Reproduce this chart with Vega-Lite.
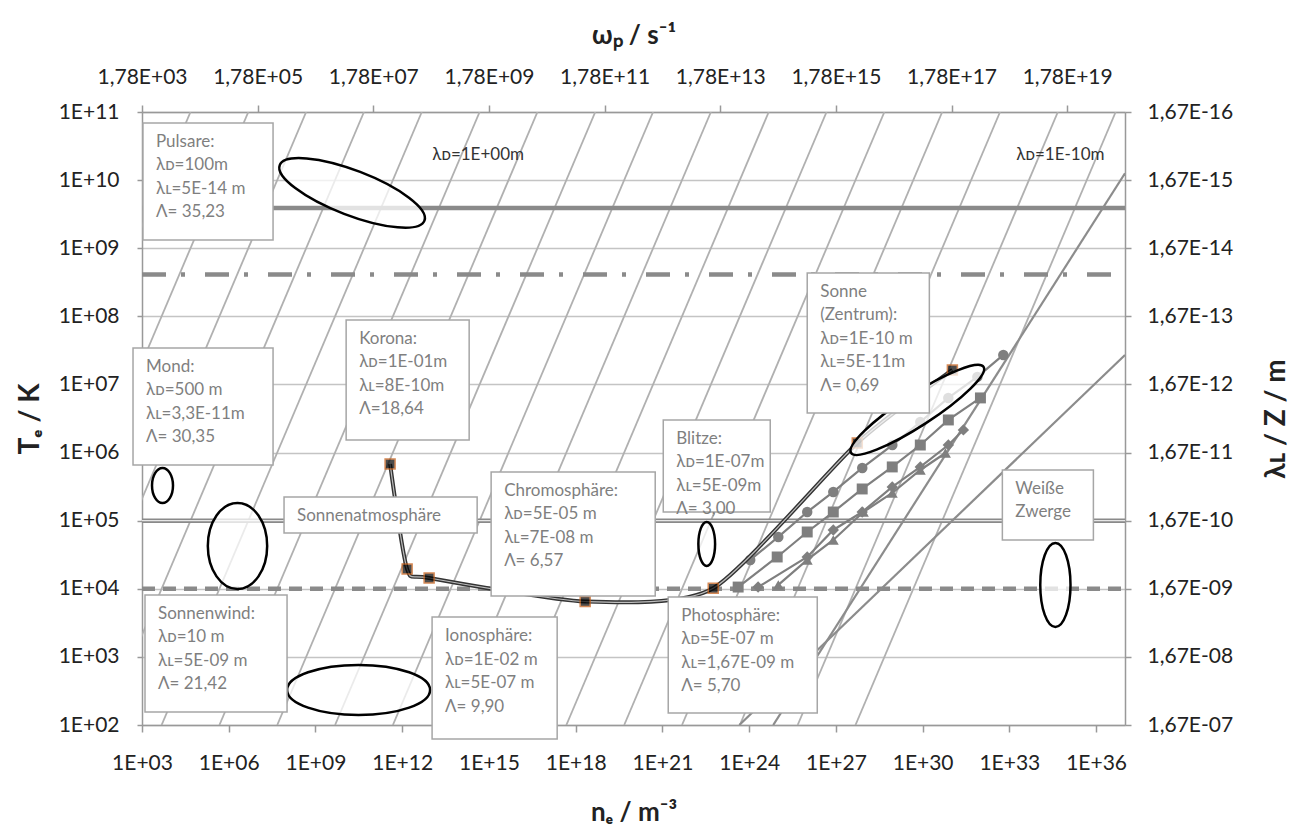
{
  "$schema": "https://vega.github.io/schema/vega-lite/v6.json",
  "width": 983,
  "height": 613,
  "autosize": {"type": "none"},
  "padding": {"left": 142, "top": 112, "right": 191, "bottom": 107},
  "background": "white",
  "config": {"view": {"stroke": null}, "font": "Lato"},
  "datasets": {
    "lam": [
      {"lam": "1E+05", "n": 4.761e-5, "T": 100}, {"lam": "1E+05", "n": 4.761e4, "T": 1e11},
      {"lam": "1E+04", "n": 4.761e-3, "T": 100}, {"lam": "1E+04", "n": 4.761e6, "T": 1e11},
      {"lam": "1E+03", "n": 0.4761, "T": 100}, {"lam": "1E+03", "n": 4.761e8, "T": 1e11},
      {"lam": "1E+02", "n": 47.61, "T": 100}, {"lam": "1E+02", "n": 4.761e10, "T": 1e11},
      {"lam": "1E+01", "n": 4761, "T": 100}, {"lam": "1E+01", "n": 4.761e12, "T": 1e11},
      {"lam": "1E+00", "n": 4.761e5, "T": 100}, {"lam": "1E+00", "n": 4.761e14, "T": 1e11},
      {"lam": "1E-01", "n": 4.761e7, "T": 100}, {"lam": "1E-01", "n": 4.761e16, "T": 1e11},
      {"lam": "1E-02", "n": 4.761e9, "T": 100}, {"lam": "1E-02", "n": 4.761e18, "T": 1e11},
      {"lam": "1E-03", "n": 4.761e11, "T": 100}, {"lam": "1E-03", "n": 4.761e20, "T": 1e11},
      {"lam": "1E-04", "n": 4.761e13, "T": 100}, {"lam": "1E-04", "n": 4.761e22, "T": 1e11},
      {"lam": "1E-05", "n": 4.761e15, "T": 100}, {"lam": "1E-05", "n": 4.761e24, "T": 1e11},
      {"lam": "1E-06", "n": 4.761e17, "T": 100}, {"lam": "1E-06", "n": 4.761e26, "T": 1e11},
      {"lam": "1E-07", "n": 4.761e19, "T": 100}, {"lam": "1E-07", "n": 4.761e28, "T": 1e11},
      {"lam": "1E-08", "n": 4.761e21, "T": 100}, {"lam": "1E-08", "n": 4.761e30, "T": 1e11},
      {"lam": "1E-09", "n": 4.761e23, "T": 100}, {"lam": "1E-09", "n": 4.761e32, "T": 1e11},
      {"lam": "1E-10", "n": 4.761e25, "T": 100}, {"lam": "1E-10", "n": 4.761e34, "T": 1e11},
      {"lam": "1E-11", "n": 4.761e27, "T": 100}, {"lam": "1E-11", "n": 4.761e36, "T": 1e11}
    ],
    "hl": [
      {"h": "a", "n": 1e3, "T": 3.9e9}, {"h": "a", "n": 1e37, "T": 3.9e9},
      {"h": "b", "n": 1e3, "T": 4.1e8}, {"h": "b", "n": 1e37, "T": 4.1e8},
      {"h": "c", "n": 1e3, "T": 1e5}, {"h": "c", "n": 1e37, "T": 1e5},
      {"h": "d", "n": 1e3, "T": 1e4}, {"h": "d", "n": 1e37, "T": 1e4}
    ],
    "sl": [
      {"id": "P", "n": 6.8e24, "T": 100}, {"id": "P", "n": 1e37, "T": 1.26e10},
      {"id": "Q", "n": 4.57e23, "T": 100}, {"id": "Q", "n": 1e37, "T": 2.71e7}
    ],
    "ser": [
      {"s": "A", "n": 1.09e24, "T": 2.65e4}, {"s": "A", "n": 1.02e25, "T": 5.77e4}, {"s": "A", "n": 1.02e26, "T": 1.34e5}, {"s": "A", "n": 8.13e26, "T": 2.64e5}, {"s": "A", "n": 8.18e27, "T": 5.94e5}, {"s": "A", "n": 8.95e28, "T": 1.29e6}, {"s": "A", "n": 8.32e29, "T": 2.81e6}, {"s": "A", "n": 7.74e30, "T": 6.34e6}, {"s": "A", "n": 7.82e31, "T": 1.29e7}, {"s": "A", "n": 6.19e32, "T": 2.71e7},
      {"s": "B", "n": 4.17e23, "T": 1.06e4}, {"s": "B", "n": 9.33e24, "T": 2.93e4}, {"s": "B", "n": 1.02e26, "T": 6.82e4}, {"s": "B", "n": 8.13e26, "T": 1.34e5}, {"s": "B", "n": 8.13e27, "T": 2.92e5}, {"s": "B", "n": 8.91e28, "T": 6.15e5}, {"s": "B", "n": 8.32e29, "T": 1.29e6}, {"s": "B", "n": 7.76e30, "T": 3.01e6}, {"s": "B", "n": 1.0e32, "T": 6.34e6},
      {"s": "C", "n": 2.04e24, "T": 1.06e4}, {"s": "C", "n": 1.02e26, "T": 2.93e4}, {"s": "C", "n": 8.13e26, "T": 7.3e4}, {"s": "C", "n": 8.13e27, "T": 1.34e5}, {"s": "C", "n": 8.91e28, "T": 3.13e5}, {"s": "C", "n": 8.32e29, "T": 6.15e5}, {"s": "C", "n": 7.76e30, "T": 1.29e6}, {"s": "C", "n": 2.57e31, "T": 2.15e6},
      {"s": "D", "n": 1.02e25, "T": 1.14e4}, {"s": "D", "n": 1.02e26, "T": 2.65e4}, {"s": "D", "n": 8.13e26, "T": 5.21e4}, {"s": "D", "n": 8.91e27, "T": 1.34e5}, {"s": "D", "n": 8.91e28, "T": 2.55e5}, {"s": "D", "n": 8.32e29, "T": 5.55e5}, {"s": "D", "n": 6.17e30, "T": 9.86e5}
    ],
    "curve": [
      {"n": 3.81e11, "T": 6.8e5}, {"n": 1.48e12, "T": 1.95e4}, {"n": 8.53e12, "T": 1.44e4}, {"n": 2.13e18, "T": 6.5e3}, {"n": 5.73e22, "T": 1.02e4}, {"n": 5.5e27, "T": 1.38e6}, {"n": 1.07e31, "T": 1.63e7}
    ],
    "ell": [
      {"e": "Pulsare", "n": 1.85e10, "T": 6.49e9},
      {"e": "Sonne", "n": 6.56e29, "T": 4.23e6},
      {"e": "Sonnenwind", "n": 3.1e10, "T": 327},
      {"e": "Mond", "n": 5.12e3, "T": 3.29e5},
      {"e": "Links", "n": 2.01e6, "T": 4.25e4},
      {"e": "Blitze", "n": 3.41e22, "T": 4.55e4},
      {"e": "WZ", "n": 3.91e34, "T": 1.14e4}
    ],
    "boxes": [
      {"txt": "Pulsare:\nλᴅ=100m\nλʟ=5E-14 m\nΛ= 35,23", "n": 1.08e3, "n2": 3.41e7, "T": 6.92e10, "T2": 1.32e9},
      {"txt": "Mond:\nλᴅ=500 m\nλʟ=3,3E-11m\nΛ= 30,35", "n": 4.89e2, "n2": 3.41e7, "T": 3.44e7, "T2": 6.58e5},
      {"txt": "Korona:\nλᴅ=1E-01m\nλʟ=8E-10m\nΛ=18,64", "n": 1.15e10, "n2": 2.07e14, "T": 8.85e7, "T2": 1.53e6},
      {"txt": "Sonnenatmosphäre", "n": 8.18e7, "n2": 3.91e14, "T": 2.23e5, "T2": 6.59e4},
      {"txt": "Chromosphäre:\nλᴅ=5E-05 m\nλʟ=7E-08 m\nΛ= 6,57", "n": 1.19e15, "n2": 5.64e20, "T": 5.19e5, "T2": 7.83e3},
      {"txt": "Blitze:\nλᴅ=1E-07m\nλʟ=5E-09m\nΛ= 3,00", "n": 1.07e21, "n2": 5.37e24, "T": 3.01e6, "T2": 1.34e5},
      {"txt": "Sonne\n(Zentrum):\nλᴅ=1E-10 m\nλʟ=5E-11m\nΛ= 0,69", "n": 1.02e26, "n2": 1.71e30, "T": 4.34e8, "T2": 3.81e6},
      {"txt": "Weiße\nZwerge", "n": 5.73e32, "n2": 8.07e35, "T": 5.55e5, "T2": 5.21e4},
      {"txt": "Sonnenwind:\nλᴅ=10 m\nλʟ=5E-09 m\nΛ= 21,42", "n": 1.27e3, "n2": 1.04e8, "T": 8.11e3, "T2": 155},
      {"txt": "Ionosphäre:\nλᴅ=1E-02 m\nλʟ=5E-07 m\nΛ= 9,90", "n": 1.08e13, "n2": 2.29e17, "T": 3.85e3, "T2": 62.2},
      {"txt": "Photosphäre:\nλᴅ=5E-07 m\nλʟ=1,67E-09 m\nΛ= 5,70", "n": 1.59e21, "n2": 2.27e26, "T": 7.59e3, "T2": 150}
    ],
    "free": [
      {"txt": "λᴅ=1E+00m", "n": 4.23e14, "T": 2.34e10},
      {"txt": "λᴅ=1E-10m", "n": 5.82e34, "T": 2.34e10}
    ]
  },
  "layer": [
    {
      "encoding": {
        "x": {"field": "n", "type": "quantitative",
          "scale": {"type": "log", "domain": [1e3, 1e37], "nice": false},
          "axis": {"orient": "bottom", "values": [1e3, 1e6, 1e9, 1e12, 1e15, 1e18, 1e21, 1e24, 1e27, 1e30, 1e33, 1e36],
            "labelExpr": "'1E+' + (datum.value < 1e10 ? '0' : '') + format(log(datum.value)/LN10, '.0f')",
            "title": "nₑ / m⁻³", "titleFontSize": 26, "titleFontWeight": "bold", "titleColor": "#222", "titlePadding": 26,
            "labelFontSize": 21, "labelColor": "#222", "labelPadding": 20, "labelFlush": false, "labelOverlap": false,
            "tickSize": 7, "tickColor": "#999", "tickWidth": 1.5, "domainColor": "#999", "domainWidth": 1.5, "grid": false}},
        "y": {"field": "T", "type": "quantitative",
          "scale": {"type": "log", "domain": [100, 1e11], "nice": false},
          "axis": {"orient": "left", "values": [1e2, 1e3, 1e4, 1e5, 1e6, 1e7, 1e8, 1e9, 1e10, 1e11],
            "labelExpr": "'1E+' + (datum.value < 1e10 ? '0' : '') + format(log(datum.value)/LN10, '.0f')",
            "title": "Tₑ / K", "titleFontSize": 28, "titleFontWeight": "bold", "titleColor": "#222", "titlePadding": 14,
            "labelFontSize": 21, "labelColor": "#222", "labelPadding": 18, "labelFlush": false, "labelOverlap": false,
            "tickSize": 5, "tickColor": "#999", "tickWidth": 1.5, "domainColor": "#999", "domainWidth": 1.5,
            "grid": true, "gridColor": "#c4c4c4", "gridWidth": 1.5}}
      },
      "layer": [
        {"data": {"name": "lam"}, "mark": {"type": "line", "clip": true, "color": "#b0b0b0", "strokeWidth": 1.8}, "encoding": {"detail": {"field": "lam"}}},
        {"data": {"name": "hl"}, "transform": [{"filter": "datum.h == 'a'"}], "mark": {"type": "line", "clip": true, "color": "#8a8a8a", "strokeWidth": 4.5}},
        {"data": {"name": "hl"}, "transform": [{"filter": "datum.h == 'b'"}], "mark": {"type": "line", "clip": true, "color": "#8a8a8a", "strokeWidth": 4.5, "strokeDash": [24, 15, 4, 20]}},
        {"data": {"name": "hl"}, "transform": [{"filter": "datum.h == 'c'"}], "mark": {"type": "line", "clip": true, "color": "#8a8a8a", "strokeWidth": 4.5}},
        {"data": {"name": "hl"}, "transform": [{"filter": "datum.h == 'c'"}], "mark": {"type": "line", "clip": true, "color": "#e6e6e6", "strokeWidth": 1.3}},
        {"data": {"name": "hl"}, "transform": [{"filter": "datum.h == 'd'"}], "mark": {"type": "line", "clip": true, "color": "#8a8a8a", "strokeWidth": 4.5, "strokeDash": [13, 8]}},
        {"data": {"name": "sl"}, "mark": {"type": "line", "clip": true, "color": "#8c8c8c", "strokeWidth": 2.2}, "encoding": {"detail": {"field": "id"}}},
        {"data": {"name": "ser"}, "transform": [{"filter": "datum.s == 'A'"}], "mark": {"type": "line", "clip": true, "color": "#7f7f7f", "strokeWidth": 2.2, "point": {"shape": "circle", "filled": true, "size": 110, "color": "#7f7f7f"}}},
        {"data": {"name": "ser"}, "transform": [{"filter": "datum.s == 'B'"}], "mark": {"type": "line", "clip": true, "color": "#7f7f7f", "strokeWidth": 2.2, "point": {"shape": "square", "filled": true, "size": 120, "color": "#7f7f7f"}}},
        {"data": {"name": "ser"}, "transform": [{"filter": "datum.s == 'C'"}], "mark": {"type": "line", "clip": true, "color": "#7f7f7f", "strokeWidth": 2.2, "point": {"shape": "diamond", "filled": true, "size": 130, "color": "#7f7f7f"}}},
        {"data": {"name": "ser"}, "transform": [{"filter": "datum.s == 'D'"}], "mark": {"type": "line", "clip": true, "color": "#7f7f7f", "strokeWidth": 2.2, "point": {"shape": "triangle-up", "filled": true, "size": 120, "color": "#7f7f7f"}}},
        {"data": {"name": "curve"}, "mark": {"type": "line", "interpolate": "cardinal", "tension": 0.35, "color": "#333333", "strokeWidth": 4}},
        {"data": {"name": "curve"}, "mark": {"type": "line", "interpolate": "cardinal", "tension": 0.35, "color": "#bdbdbd", "strokeWidth": 1.2}},
        {"data": {"name": "curve"}, "mark": {"type": "point", "shape": "square", "filled": true, "size": 100, "color": "black", "stroke": "#c55a11", "strokeWidth": 1.5}},
        {"data": {"name": "ell"}, "transform": [{"filter": "datum.e == 'Pulsare'"}], "mark": {"type": "point", "shape": "M1,0C1,0.16,0.552,0.29,0,0.29C-0.552,0.29,-1,0.16,-1,0C-1,-0.16,-0.552,-0.29,0,-0.29C0.552,-0.29,1,-0.16,1,0Z", "size": 24025, "angle": 21, "fill": "white", "fillOpacity": 0.75, "stroke": "black", "strokeWidth": 2.5, "opacity": 1}},
        {"data": {"name": "ell"}, "transform": [{"filter": "datum.e == 'Sonne'"}], "mark": {"type": "point", "shape": "M1,0C1,0.11,0.552,0.2,0,0.2C-0.552,0.2,-1,0.11,-1,0C-1,-0.11,-0.552,-0.2,0,-0.2C0.552,-0.2,1,-0.11,1,0Z", "size": 24964, "angle": -33, "fill": "white", "fillOpacity": 0.75, "stroke": "black", "strokeWidth": 2.5, "opacity": 1}},
        {"data": {"name": "ell"}, "transform": [{"filter": "datum.e == 'Sonnenwind'"}], "mark": {"type": "point", "shape": "M1,0C1,0.193,0.552,0.35,0,0.35C-0.552,0.35,-1,0.193,-1,0C-1,-0.193,-0.552,-0.35,0,-0.35C0.552,-0.35,1,-0.193,1,0Z", "size": 20449, "angle": 0, "fill": "white", "fillOpacity": 0.75, "stroke": "black", "strokeWidth": 2.5, "opacity": 1}},
        {"data": {"name": "ell"}, "transform": [{"filter": "datum.e == 'Mond'"}], "mark": {"type": "point", "shape": "M1,0C1,0.331,0.552,0.6,0,0.6C-0.552,0.6,-1,0.331,-1,0C-1,-0.331,-0.552,-0.6,0,-0.6C0.552,-0.6,1,-0.331,1,0Z", "size": 1225, "angle": 90, "fill": "white", "fillOpacity": 0.75, "stroke": "black", "strokeWidth": 2.5, "opacity": 1}},
        {"data": {"name": "ell"}, "transform": [{"filter": "datum.e == 'Links'"}], "mark": {"type": "point", "shape": "M1,0C1,0.381,0.552,0.69,0,0.69C-0.552,0.69,-1,0.381,-1,0C-1,-0.381,-0.552,-0.69,0,-0.69C0.552,-0.69,1,-0.381,1,0Z", "size": 7396, "angle": 90, "fill": "white", "fillOpacity": 0.75, "stroke": "black", "strokeWidth": 2.5, "opacity": 1}},
        {"data": {"name": "ell"}, "transform": [{"filter": "datum.e == 'Blitze'"}], "mark": {"type": "point", "shape": "M1,0C1,0.21,0.552,0.38,0,0.38C-0.552,0.38,-1,0.21,-1,0C-1,-0.21,-0.552,-0.38,0,-0.38C0.552,-0.38,1,-0.21,1,0Z", "size": 1936, "angle": 90, "fill": "white", "fillOpacity": 0.75, "stroke": "black", "strokeWidth": 2.5, "opacity": 1}},
        {"data": {"name": "ell"}, "transform": [{"filter": "datum.e == 'WZ'"}], "mark": {"type": "point", "shape": "M1,0C1,0.199,0.552,0.36,0,0.36C-0.552,0.36,-1,0.199,-1,0C-1,-0.199,-0.552,-0.36,0,-0.36C0.552,-0.36,1,-0.199,1,0Z", "size": 7056, "angle": 90, "fill": "white", "fillOpacity": 0.75, "stroke": "black", "strokeWidth": 2.5, "opacity": 1}},
        {"data": {"name": "boxes"}, "mark": {"type": "rect", "fill": "white", "stroke": "#a6a6a6", "strokeWidth": 1.5}, "encoding": {"x2": {"field": "n2"}, "y2": {"field": "T2"}}},
        {"data": {"name": "boxes"}, "mark": {"type": "text", "align": "left", "baseline": "top", "dx": 13, "dy": 11, "fontSize": 17, "lineHeight": 23.5, "lineBreak": "\n", "color": "#7f7f7f", "font": "Lato"}, "encoding": {"text": {"field": "txt"}}},
        {"data": {"name": "free"}, "mark": {"type": "text", "align": "center", "baseline": "middle", "fontSize": 17, "color": "#333333", "font": "Lato"}, "encoding": {"text": {"field": "txt"}}}
      ]
    },
    {
      "data": {"values": [{"n": 1e3, "T": 100}, {"n": 1e37, "T": 1e11}]},
      "mark": {"type": "point", "opacity": 0},
      "encoding": {
        "x": {"field": "n", "type": "quantitative",
          "scale": {"type": "log", "domain": [1e3, 1e37], "nice": false},
          "axis": {"orient": "top", "values": [1e3, 1e7, 1e11, 1e15, 1e19, 1e23, 1e27, 1e31, 1e35],
            "labelExpr": "'1,78E+' + (datum.value < 1e16 ? '0' : '') + format((log(datum.value)/LN10 + 3)/2, '.0f')",
            "title": "ωₚ / s⁻¹", "titleFontSize": 26, "titleFontWeight": "bold", "titleColor": "#222", "titlePadding": 18,
            "labelFontSize": 21, "labelColor": "#222", "labelPadding": 18, "labelFlush": false, "labelOverlap": false,
            "tickSize": 7, "tickColor": "#999", "tickWidth": 1.5, "domainColor": "#999", "domainWidth": 1.5, "grid": false}},
        "y": {"field": "T", "type": "quantitative",
          "scale": {"type": "log", "domain": [100, 1e11], "nice": false},
          "axis": {"orient": "right", "values": [1e2, 1e3, 1e4, 1e5, 1e6, 1e7, 1e8, 1e9, 1e10, 1e11],
            "labelExpr": "'1,67E-' + (datum.value < 3e4 ? '0' : '') + format(log(datum.value)/LN10 + 5, '.0f')",
            "title": "λʟ / Z / m", "titleFontSize": 28, "titleFontWeight": "bold", "titleColor": "#222", "titlePadding": 30,
            "titleAngle": 270, "titleBaseline": "top",
            "labelFontSize": 21, "labelColor": "#222", "labelPadding": 16, "labelFlush": false, "labelOverlap": false,
            "tickSize": 6, "tickColor": "#999", "tickWidth": 1.5, "domainColor": "#999", "domainWidth": 1.5, "grid": false}}
      }
    }
  ],
  "resolve": {"scale": {"x": "independent", "y": "independent"}}
}
